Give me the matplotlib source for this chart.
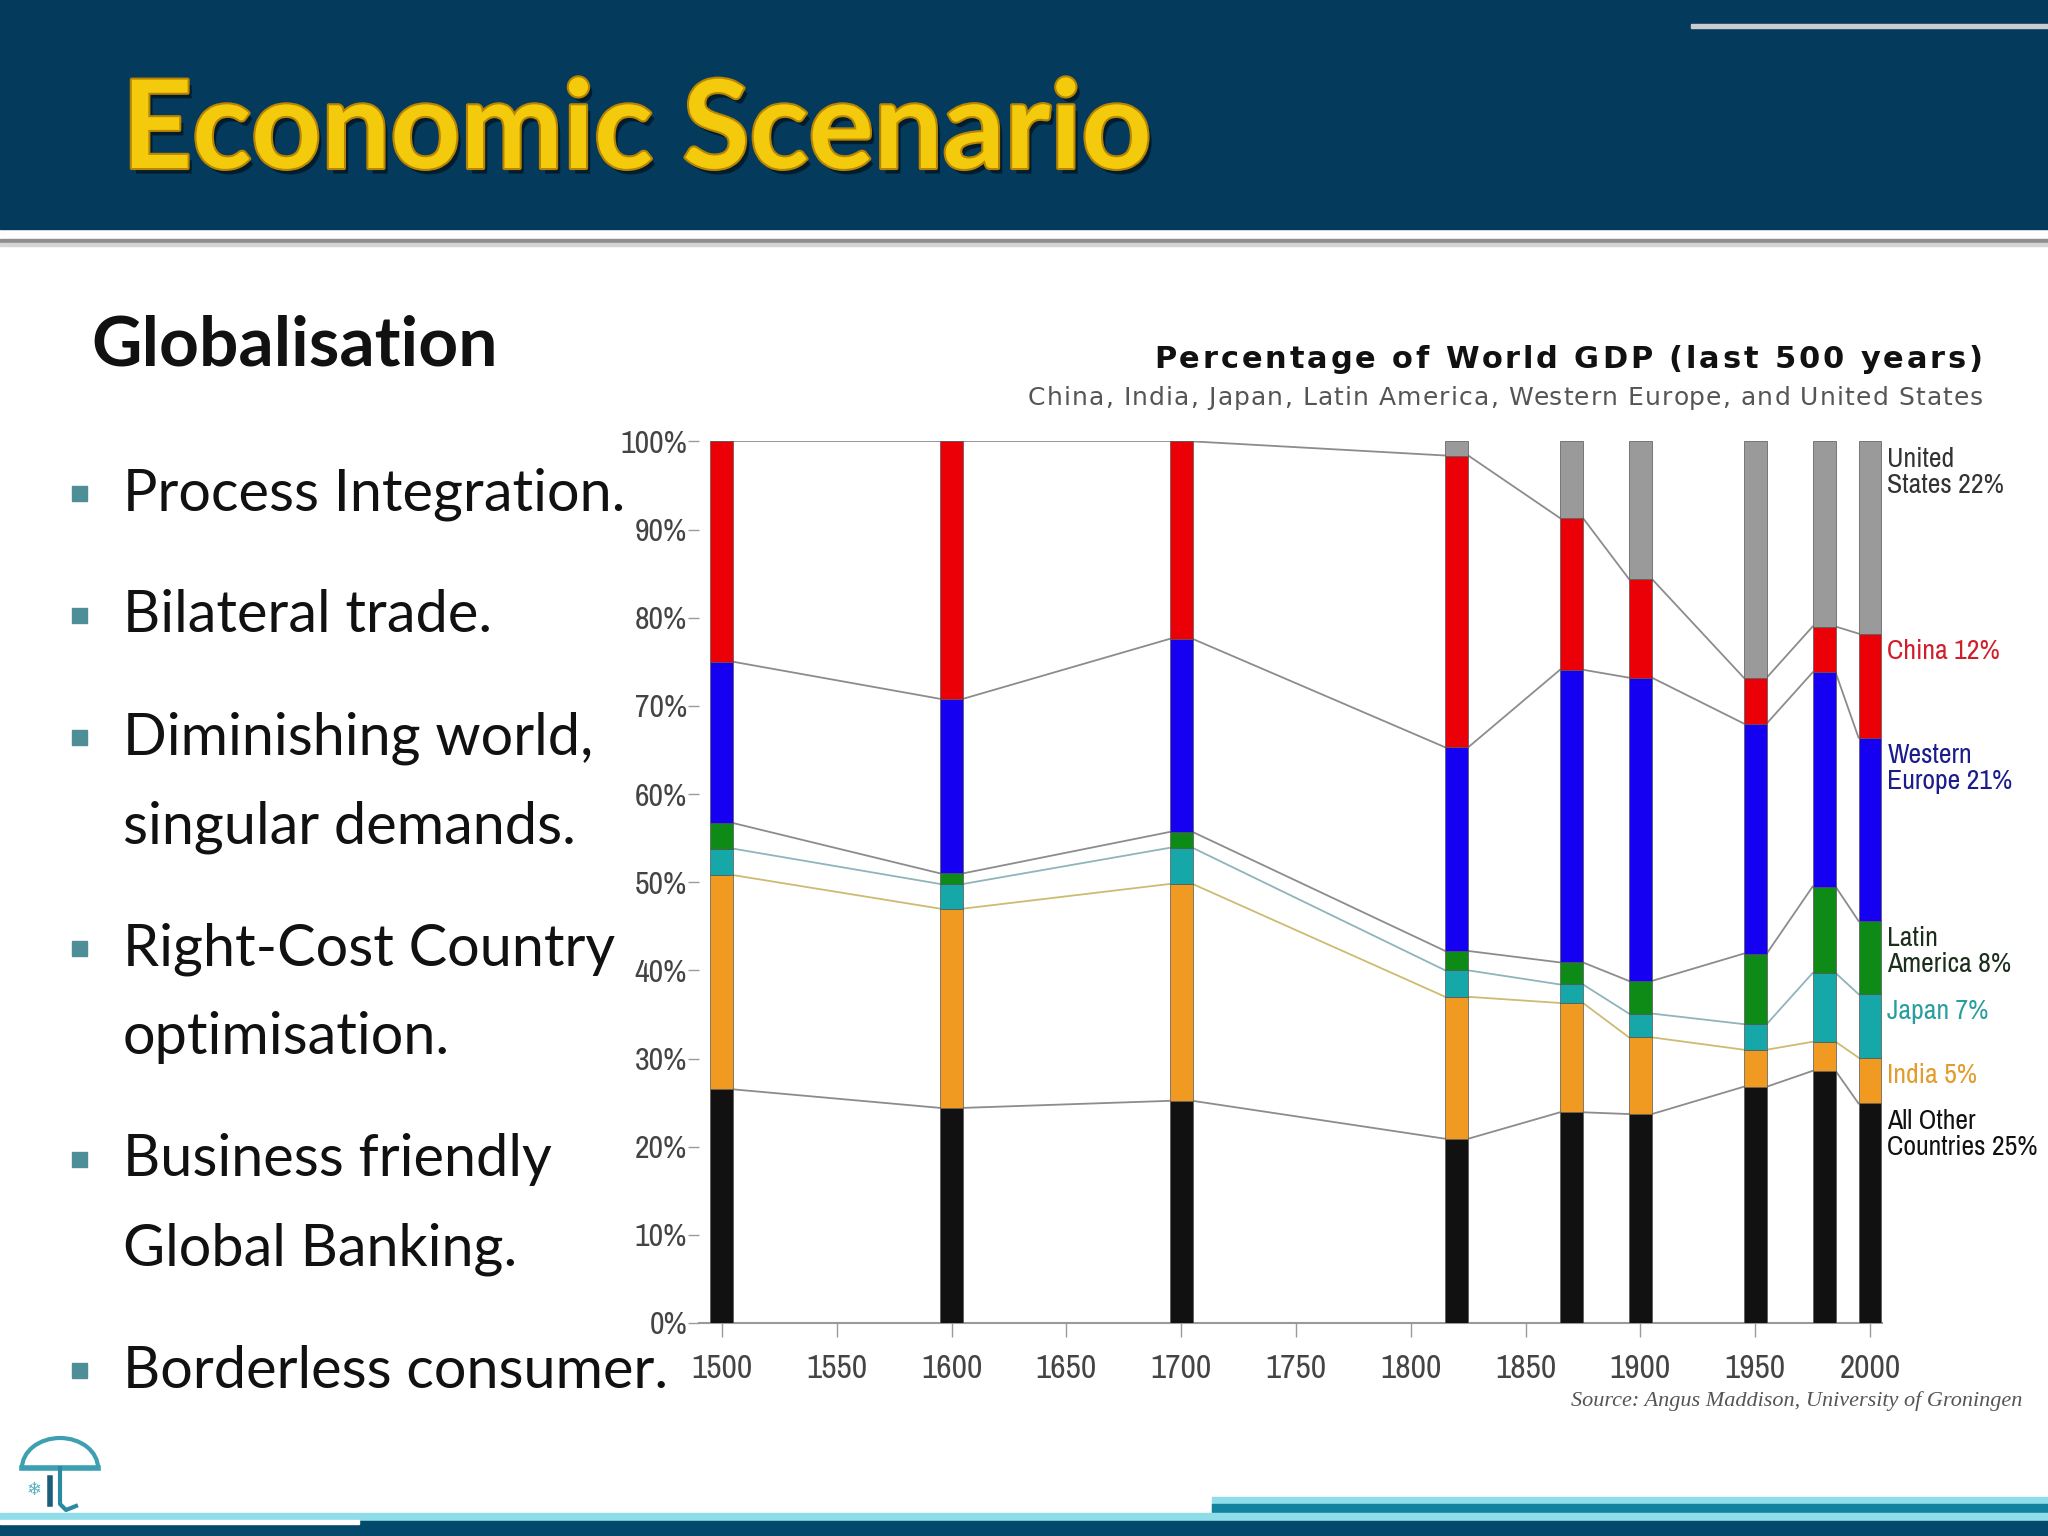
import matplotlib
matplotlib.use("Agg")
import matplotlib.pyplot as plt
import matplotlib.patheffects as pe
from matplotlib.patches import Rectangle, Arc
from matplotlib import font_manager
import numpy as np

# share of world GDP (%)
years = [1500, 1600, 1700, 1820, 1870, 1900, 1950, 1980, 2000]
other = [26.5, 24.4, 25.2, 20.9, 23.9, 23.7, 26.8, 28.6, 24.9]
india = [24.3, 22.6, 24.6, 16.1, 12.4, 8.7, 4.2, 3.3, 5.2]
japan = [3.0, 2.8, 4.1, 3.0, 2.1, 2.7, 2.9, 7.8, 7.2]
latam = [2.9, 1.2, 1.8, 2.2, 2.5, 3.7, 8.0, 9.8, 8.3]
weurope = [18.3, 19.8, 21.9, 23.1, 33.2, 34.4, 26.1, 24.3, 20.8]
china = [25.0, 29.2, 22.4, 33.1, 17.2, 11.2, 5.2, 5.2, 11.8]
usa = [0.0, 0.0, 0.0, 1.6, 8.7, 15.6, 26.8, 21.0, 21.8]

labels = ["All Other\nCountries 25%", "India 5%", "Japan 7%", "Latin\nAmerica 8%",
          "Western\nEurope 21%", "China 12%", "United\nStates 22%"]
bar_colors = ["#111111", "#F09A22", "#16A8A8", "#0E8A16", "#1600F2", "#EC0008", "#9A9A9A"]
label_colors = ["#111111", "#E39B2E", "#2A9E9E", "#1C2E1C", "#1B1B8C", "#D01E2A", "#333333"]
line_colors = ["#8C8C8C", "#CDBB72", "#8FB4BC", "#8C8C8C", "#8C8C8C", "#8C8C8C"]

bullets = [["Process Integration."], ["Bilateral trade."],
           ["Diminishing world,", "singular demands."],
           ["Right-Cost Country", "optimisation."],
           ["Business friendly", "Global Banking."],
           ["Borderless consumer."]]

# pick a condensed face for the chart labels if one exists
entries = font_manager.fontManager.ttflist
names = {f.name for f in entries}
narrow_kw = {"family": "Liberation Sans"}
narrow_scale = 0.85
for f in entries:
    if "Narrow" in f.name or "Condensed" in f.name:
        narrow_kw = {"family": f.name}
        narrow_scale = 1.0
        break
else:
    for f in entries:
        if f.name == "DejaVu Sans" and "condensed" in str(f.stretch):
            narrow_kw = {"family": "DejaVu Sans", "stretch": "condensed"}
            narrow_scale = 0.95
            break
body = "Lato" if "Lato" in names else "DejaVu Sans"

W, H = 2048, 1536
fig = plt.figure(figsize=(W / 100, H / 100), dpi=100)
renderer = fig.canvas.get_renderer()

# slide background in pixel coords
bg = fig.add_axes([0, 0, 1, 1], zorder=0)
bg.set_xlim(0, W)
bg.set_ylim(H, 0)
bg.axis("off")


def text_width(s, **kw):
    t = bg.text(0, 0, s + "|", **kw)
    w = t.get_window_extent(renderer).width
    t.remove()
    t = bg.text(0, 0, "|", **kw)
    w -= t.get_window_extent(renderer).width
    t.remove()
    return w


def spaced_text(x_right, y, s, target_w, **kw):
    # letter-spaced text, right aligned, stretched to target width
    natural = text_width(s, **kw)
    track = (target_w - natural) / (len(s) - 1)
    x0 = x_right - target_w
    for i, ch in enumerate(s):
        if ch == " ":
            continue
        xi = x0 + text_width(s[:i], **kw) + i * track
        bg.text(xi, y, ch, ha="left", va="center", **kw)


bg.add_patch(Rectangle((0, 0), W, 229, color="#043A5B"))
bg.add_patch(Rectangle((1691, 24), W - 1691, 4, color="#C9CDD2"))
bg.add_patch(Rectangle((0, 239), W, 4, color="#8E8E8E"))
bg.add_patch(Rectangle((0, 243), W, 3, color="#D4D4D4"))

bg.text(122, 168, "Economic Scenario", fontsize=88, fontweight="bold", family=body,
        color="#F4CB0C", va="baseline",
        path_effects=[pe.withSimplePatchShadow(offset=(3, -4), shadow_rgbFace="#000000", alpha=0.5),
                      pe.withStroke(linewidth=3, foreground="#B98500")])

bg.text(91, 346, "Globalisation", fontsize=50, fontweight="bold", family=body,
        color="#111111", va="center")

y = 494
for item in bullets:
    bg.add_patch(Rectangle((72, y - 8), 15, 15, color="#4E8E96"))
    for line in item:
        bg.text(123, y, line, fontsize=41.5, family=body, color="#111111", va="center")
        y += 89
    y += 33

# bottom decoration
bg.add_patch(Rectangle((1212, 1497), W - 1212, 20, color="#8EDDE8"))
bg.add_patch(Rectangle((1212, 1504), W - 1212, 8, color="#13829E"))
bg.add_patch(Rectangle((0, 1513), W, 8, color="#8EDDE8"))
bg.add_patch(Rectangle((0, 1521), W, 15, color="#02496B"))
bg.add_patch(Rectangle((0, 1520), 359, 4, color="white"))

# small logo
bg.add_patch(Arc((60, 1468), 76, 60, theta1=180, theta2=360, color="#3D9FB2", lw=3))
bg.plot([22, 98], [1468, 1468], color="#3D9FB2", lw=4)
bg.plot([60, 60, 66, 76], [1468, 1504, 1510, 1506], color="#2B8AA2", lw=3)
bg.plot([50, 50], [1478, 1504], color="#1C5E7A", lw=4)
bg.text(34, 1490, "\u2744", fontsize=13, color="#5AAFC2", ha="center", va="center")

spaced_text(1983, 360, "Percentage of World GDP (last 500 years)", 829,
            fontsize=22, fontweight="bold", color="#111111")
spaced_text(1983, 398, "China, India, Japan, Latin America, Western Europe, and United States", 955,
            fontsize=18, color="#555555")
bg.text(2022, 1401, "Source: Angus Maddison, University of Groningen", fontsize=16,
        family="Liberation Serif", style="italic", color="#555555", ha="right", va="center")

# chart
ax = fig.add_axes([699 / W, 1 - 1323 / H, 1182.5 / W, 881.6 / H], zorder=1)
ax.patch.set_alpha(0)

series = [other, india, japan, latam, weurope, china, usa]
data = np.array(series)
cum = np.cumsum(data, axis=0)
x = np.array(years, dtype=float)
width = 10

bottom = np.zeros(len(years))
for vals, col in zip(data, bar_colors):
    ax.bar(x, vals, width=width, bottom=bottom, color=col, edgecolor="#555555",
           linewidth=0.5, zorder=3)
    bottom = bottom + vals

for i in range(6):
    for j in range(len(years) - 1):
        ax.plot([x[j] + width / 2, x[j + 1] - width / 2], [cum[i, j], cum[i, j + 1]],
                color=line_colors[i], lw=1.3, zorder=2)

for i, (lab, col) in enumerate(zip(labels, label_colors)):
    ax.text(x[-1] + 7.5, cum[i, -1] - 0.6, lab, fontsize=20 * narrow_scale, color=col,
            ha="left", va="top", linespacing=1.05, clip_on=False, **narrow_kw)

ax.set_xlim(1490, 2005)
ax.set_ylim(0, 100)
ax.set_xticks(np.arange(1500, 2001, 50))
ax.set_yticks(np.arange(0, 101, 10))
ax.set_yticklabels([f"{v}%" for v in range(0, 101, 10)])
for s in ["top", "right", "left"]:
    ax.spines[s].set_visible(False)
ax.spines["bottom"].set_color("#9A9A9A")
ax.spines["bottom"].set_linewidth(1.5)
ax.tick_params(axis="x", length=10, width=1, color="#9A9A9A", pad=12,
               labelsize=24 * narrow_scale, labelcolor="#444444")
ax.tick_params(axis="y", length=8, width=1, color="#9A9A9A", pad=0.5,
               labelsize=23 * narrow_scale, labelcolor="#444444")
for t in ax.get_xticklabels() + ax.get_yticklabels():
    t.set_family(narrow_kw["family"])
    if "stretch" in narrow_kw:
        t.set_stretch(narrow_kw["stretch"])

fig.savefig("out.png", dpi=100)
